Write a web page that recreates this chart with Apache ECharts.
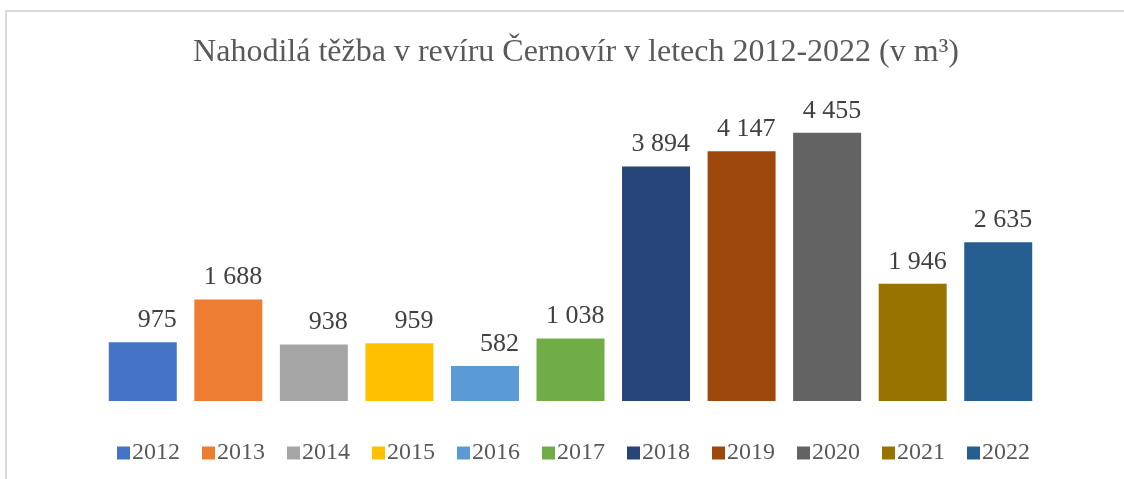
<!DOCTYPE html>
<html>
<head>
<meta charset="utf-8">
<script src="https://cdn.jsdelivr.net/npm/echarts@6/dist/echarts.min.js"></script>
<style>
  html, body { margin: 0; padding: 0; background: #fff; }
  #chart { width: 1124px; height: 479px; }
</style>
</head>
<body>
<div id="chart"></div>
<script>
// data
const years = ['2012', '2013', '2014', '2015', '2016', '2017', '2018', '2019', '2020', '2021', '2022'];
const volumes = [975, 1688, 938, 959, 582, 1038, 3894, 4147, 4455, 1946, 2635];
const titleText = 'Nahodilá těžba v revíru Černovír v letech 2012-2022 (v m³)';

// Office palette
const palette = ['#4472c4', '#ed7d31', '#a5a5a5', '#ffc000', '#5b9bd5', '#70ad47',
                 '#264478', '#9e480e', '#636363', '#997300', '#255e91'];

const serif = '"Liberation Serif", "Times New Roman", serif';

// 1 688 style numbers
function fmt(v) {
    return String(v).replace(/\B(?=(\d{3})+(?!\d))/g, ' ');
}

const chart = echarts.init(document.getElementById('chart'));

// one series per year so that the legend gets one entry per bar
const series = years.map((y, i) => ({
    name: y,
    type: 'bar',
    data: years.map((_, j) => (j === i ? volumes[i] : '-')),
    barWidth: 68,
    barGap: '-100%',
    itemStyle: { color: palette[i] },
    label: {
        show: true,
        position: ['100%', 0],
        align: 'right',
        verticalAlign: 'bottom',
        offset: [0, -9],
        fontFamily: serif,
        fontSize: 26,
        color: '#404040',
        formatter: p => fmt(p.value)
    }
}));

chart.setOption({
    animation: false,
    backgroundColor: '#fff',
    graphic: [{
        type: 'rect',
        shape: { x: 6, y: 11, width: 1300, height: 600 },
        style: { fill: 'none', stroke: '#d9d9d9', lineWidth: 2 },
        z: -1
    }],
    title: {
        text: titleText,
        left: 571,
        textAlign: 'center',
        top: 32,
        textStyle: { fontFamily: serif, fontSize: 32, fontWeight: 'normal', color: '#595959' }
    },
    legend: {
        data: years,
        left: 112,
        top: 436,
        itemWidth: 13,
        itemHeight: 13,
        itemGap: 22,
        icon: 'rect',
        textStyle: { fontFamily: serif, fontSize: 24, color: '#595959', padding: [0, 0, 0, -3] }
    },
    grid: { left: 100, right: 83, top: 100, bottom: 78 },
    xAxis: {
        type: 'category',
        data: years,
        axisLine: { show: false },
        axisTick: { show: false },
        axisLabel: { show: false }
    },
    yAxis: {
        type: 'value',
        min: 0,
        max: 5000,
        show: false,
        splitLine: { show: false }
    },
    series: series
});
</script>
</body>
</html>
